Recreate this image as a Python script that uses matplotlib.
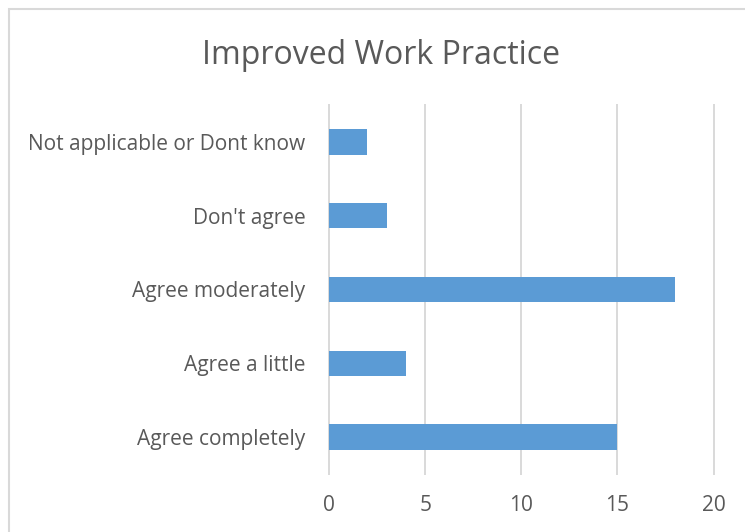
import matplotlib
matplotlib.use("Agg")
import matplotlib.pyplot as plt
from matplotlib.patches import Rectangle

categories = ["Not applicable or Dont know", "Don't agree", "Agree moderately",
              "Agree a little", "Agree completely"]
values = [2, 3, 18, 4, 15]
xticks = [0, 5, 10, 15, 20]
title = "Improved Work Practice"

W, H = 745, 532
TEXT = "#595959"
GRID = "#D9D9D9"
BAR = "#5B9BD5"
plt.rcParams['font.family'] = ['Open Sans', 'DejaVu Sans']

fig = plt.figure(figsize=(W / 100, H / 100), dpi=100)
fig.patch.set_facecolor("white")
x0, x1, ytop, ybot = 329, 713.6, 105, 474
ax = fig.add_axes([x0 / W, 1 - ybot / H, (x1 - x0) / W, (ybot - ytop) / H])

pos = list(range(len(categories)))
ax.barh(pos, values, height=0.345, color=BAR, zorder=3)
ax.set_ylim(len(categories) - 0.5, -0.5)
ax.set_xlim(xticks[0], xticks[-1])
ax.set_xticks(xticks)
ax.set_yticks(pos)
ax.set_yticklabels(categories)
for s in ax.spines.values():
    s.set_visible(False)
ax.tick_params(axis='both', length=0, colors=TEXT)
ax.tick_params(axis='y', pad=17)
ax.tick_params(axis='x', pad=15)
ax.xaxis.grid(True, color=GRID, lw=1.4, zorder=0)
for gl in ax.get_xgridlines():
    gl.set_clip_on(False)

t = fig.text(381 / W, 1 - 64 / H, title, ha='center', va='baseline', color=TEXT, fontsize=24)

fig.canvas.draw()
r = fig.canvas.get_renderer()

def fit(txt, target):
    w = txt.get_window_extent(r).width
    txt.set_fontsize(txt.get_fontsize() * target / w)

fit(t, 358)
ref = ax.get_yticklabels()[0]
w = ref.get_window_extent(r).width
fs = ref.get_fontsize() * 278 / w
for lab in ax.get_yticklabels() + ax.get_xticklabels():
    lab.set_fontsize(fs)

fig.patches.append(Rectangle((8.5 / W, -0.2), 2, 1.2 - 8.5 / H, transform=fig.transFigure,
                             fill=False, ec=GRID, lw=1.5))

fig.savefig("out.png", dpi=100, facecolor="white")
